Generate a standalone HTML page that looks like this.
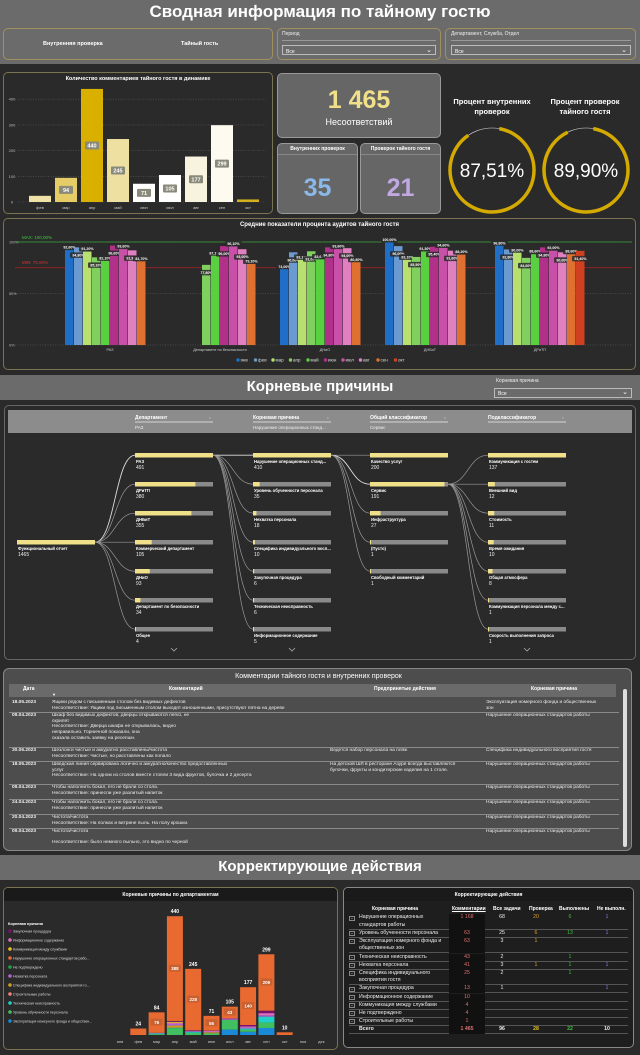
<!DOCTYPE html>
<html><head><meta charset="utf-8">
<style>
*{box-sizing:border-box}
body{margin:0;width:640px;height:1055px;background:#2a2a2a;position:relative;overflow:hidden;font-family:"Liberation Sans","Noto Sans CJK SC",sans-serif;color:#fff}
.abs{position:absolute}
.band{position:absolute;left:0;width:640px;background:#6b6b6b}
.panel{position:absolute;border:1px solid #7a7250;border-radius:5px}
.t{position:absolute;white-space:nowrap}
.slab{font-size:5px;color:#eee}
.row{position:absolute;left:0;width:610px;font-size:4.8px;line-height:5.7px;color:#eee;border-bottom:1px solid #8a8a8a}
.row div{position:absolute;top:0}
.rt{position:absolute;left:0;width:279px;font-size:5.2px;line-height:7.6px;color:#eee;border-bottom:1px solid #555}
.rt span{position:absolute;top:0;text-align:center}
</style></head><body>

<div class="band" style="top:0;height:64px"></div>
<div class="t" style="left:0;width:640px;top:2px;text-align:center;font-size:17px;font-weight:bold">Сводная информация по тайному гостю</div>
<div class="panel" style="left:3px;top:28px;width:270px;height:32px;border-color:#a09060"></div>
<div class="t" style="left:43px;top:41px;font-size:5.5px;font-weight:bold">Внутренняя проверка</div>
<div class="t" style="left:181px;top:41px;font-size:5.5px;font-weight:bold">Тайный гость</div>
<div class="panel" style="left:277px;top:28px;width:164px;height:32px;border-color:#a09060"></div>
<div class="t slab" style="left:282px;top:31px">Период</div>
<div class="abs" style="left:282px;top:40px;width:154px;height:0;border-top:1px solid #999"></div>
<div class="abs" style="left:282px;top:45px;width:154px;height:10px;border:1px solid #bbb;font-size:5px;padding:3px 0 0 3px">Все<span style="position:absolute;right:3px;top:0;font-size:7px">⌄</span></div>
<div class="panel" style="left:445px;top:28px;width:191px;height:32px;border-color:#a09060"></div>
<div class="t slab" style="left:451px;top:31px">Департамент, Служба, Отдел</div>
<div class="abs" style="left:451px;top:40px;width:180px;height:0;border-top:1px solid #999"></div>
<div class="abs" style="left:451px;top:45px;width:180px;height:10px;border:1px solid #bbb;font-size:5px;padding:3px 0 0 3px">Все<span style="position:absolute;right:3px;top:0;font-size:7px">⌄</span></div>

<div class="panel" style="left:3px;top:72px;width:270px;height:142px"></div>
<div class="t" style="left:3px;width:270px;top:76px;text-align:center;font-size:5.5px;font-weight:bold">Количество комментариев тайного гостя в динамике</div>
<div class="panel" style="left:277px;top:73px;width:164px;height:65px;background:#666;border-color:#999"></div>
<div class="t" style="left:277px;width:164px;top:86px;text-align:center;font-size:25px;font-weight:bold;color:#f0e08a">1 465</div>
<div class="t" style="left:277px;width:164px;top:117px;text-align:center;font-size:9px">Несоответствий</div>
<div class="panel" style="left:277px;top:143px;width:81px;height:71px;background:#666;border-color:#999"></div>
<div class="t" style="left:277px;width:81px;top:146px;text-align:center;font-size:5px;font-weight:bold">Внутренних проверок</div>
<div class="abs" style="left:278px;top:154px;width:79px;border-top:1px solid #888"></div>
<div class="t" style="left:277px;width:81px;top:174px;text-align:center;font-size:25px;font-weight:bold;color:#8ab8e8">35</div>
<div class="panel" style="left:360px;top:143px;width:81px;height:71px;background:#666;border-color:#999"></div>
<div class="t" style="left:360px;width:81px;top:146px;text-align:center;font-size:5px;font-weight:bold">Проверок тайного гостя</div>
<div class="abs" style="left:361px;top:154px;width:79px;border-top:1px solid #888"></div>
<div class="t" style="left:360px;width:81px;top:174px;text-align:center;font-size:25px;font-weight:bold;color:#c0a8e0">21</div>
<div class="t" style="left:447px;width:90px;top:97px;text-align:center;font-size:7.5px;font-weight:bold;line-height:10px;white-space:normal">Процент внутренних проверок</div>
<div class="t" style="left:540px;width:90px;top:97px;text-align:center;font-size:7.5px;font-weight:bold;line-height:10px;white-space:normal">Процент проверок тайного гостя</div>

<div class="panel" style="left:3px;top:218px;width:633px;height:152px"></div>
<div class="t" style="left:3px;width:633px;top:222px;text-align:center;font-size:6px;font-weight:bold">Средние показатели процента аудитов тайного гостя</div>

<div class="band" style="top:375px;height:25px"></div>
<div class="t" style="left:0;width:640px;top:378px;text-align:center;font-size:15px;font-weight:bold">Корневые причины</div>
<div class="t slab" style="left:496px;top:378px">Корневая причина</div>
<div class="abs" style="left:494px;top:388px;width:138px;height:10px;border:1px solid #bbb;font-size:5px;padding:2px 0 0 3px">Все<span style="position:absolute;right:3px;top:-1px;font-size:7px">⌄</span></div>

<div class="panel" style="left:4px;top:405px;width:632px;height:255px;border-color:#666"></div>
<div class="abs" style="left:8px;top:410px;width:624px;height:23px;background:#8c8c8c"></div>

<div class="abs" style="left:3px;top:668px;width:629px;height:183px;background:#4d4d4d;border:1px solid #888;border-radius:6px">
  <div class="t" style="left:0;width:629px;top:4px;text-align:center;font-size:7px">Комментарии тайного гостя и внутренних проверок</div>
  <div class="abs" style="left:5px;top:15px;width:607px;height:13px;background:#6a6a6a;font-size:5px;font-weight:bold">
    <span class="t" style="left:14px;top:2px">Дата</span>
    <span class="t" style="left:160px;top:2px">Комментарий</span>
    <span class="t" style="left:365px;top:2px">Предпринятые действия</span>
    <span class="t" style="left:522px;top:2px">Корневая причина</span>
    <span class="t" style="left:43px;top:8px;font-size:4px">▼</span>
  </div>
  <div id="crows"></div>
  <div class="abs" style="left:619px;top:20px;width:4px;height:158px;background:#ddd;border-radius:2px"></div>
</div>

<div class="band" style="top:855px;height:25px"></div>
<div class="t" style="left:0;width:640px;top:858px;text-align:center;font-size:15px;font-weight:bold">Корректирующие действия</div>

<div class="panel" style="left:3px;top:887px;width:335px;height:163px;background:#2a2a2a"></div>
<div class="abs" style="left:4px;top:888px;width:333px;height:13px;background:#1a1a1a;border-radius:4px 4px 0 0;font-size:5px;font-weight:bold;text-align:center;padding-top:4px">Корневые причины по департаментам</div>
<div class="panel" style="left:343px;top:887px;width:291px;height:161px;border-color:#888;background:#1e1e1e"></div>
<div class="abs" style="left:344px;top:888px;width:289px;height:13px;background:#1a1a1a;border-radius:4px 4px 0 0;font-size:5px;font-weight:bold;text-align:center;padding-top:4px">Корректирующие действия</div>
<div class="abs" style="left:347px;top:904px;width:285px;font-size:5px;font-weight:bold">
  <span class="t" style="left:25px;top:2px">Корневая причина</span>
  <span class="t" style="left:105px;top:2px;text-decoration:underline">Комментарии</span>
  <span class="t" style="left:146px;top:2px">Все задачи</span>
  <span class="t" style="left:182px;top:2px">Проверка</span>
  <span class="t" style="left:212px;top:2px">Выполнены</span>
  <span class="t" style="left:250px;top:2px">Не выполн.</span>
</div>
<div id="ctab" class="abs" style="left:349px;top:914px;width:279px"></div>

<svg id="g" class="abs" style="left:0;top:0" width="640" height="1055"></svg>

<script>
const monthsTop=['фев','мар','апр','май','июн','июл','авг','сен','окт'];
const commentCounts=[24,94,440,245,71,105,177,299,10];
const topTicks=[0,100,200,300,400];

const gaugeLabels=['87,51%','89,90%'];
const gaugeValues=[87.51,89.90];

const deptNames=['РАЗ','Департамент по безопасности','ДНиО','ДНБиТ','ДРиТП'];
const auditMonths=['янв','фев','мар','апр','май','июн','июл','авг','сен','окт'];
const auditRAZ=[92.6,94.8,91.2,85.1,82.1,96.6,93.6,91.9,81.7,null];
const auditDPB=[null,null,null,77.8,87.1,96.0,96.1,93.0,79.1,null];
const auditDNiO=[74.0,90.0,83.1,91.0,83.6,94.8,93.6,94.0,80.8,null];
const auditDNBiT=[100,96.0,83.1,85.5,91.3,95.4,94.6,91.6,88.2,null];
const auditDRiTP=[96.8,92.8,90.0,84.6,88.6,94.8,92.0,90.0,88.6,91.4];
const auditTicks=[0,50,100];
const auditMax=100, auditMin=75;

const treeRoot=['Функциональный отчет',1465];
const treeL1Names=['РАЗ','ДРиТП','ДНБиТ','Коммерческий департамент','ДНиО','Департамент по безопасности','Общее'];
const treeL1Vals=[491,380,355,105,93,34,4];
const treeL2Names=['Нарушение операционных станд...','Уровень обученности персонала','Нехватка персонала','Специфика индивидуального восп...','Закупочная процедура','Техническая неисправность','Информационное содержание'];
const treeL2Vals=[410,35,18,10,6,6,5];
const treeL3Names=['Качество услуг','Сервис','Инфраструктура','(Пусто)','Свободный комментарий'];
const treeL3Vals=[200,191,27,1,1];
const treeL4Names=['Коммуникация с гостем','Внешний вид','Стоимость','Время ожидания','Общая атмосфера','Коммуникация персонала между с...','Скорость выполнения запроса'];
const treeL4Vals=[137,12,11,10,8,1,1];

const stackMonths=['янв','фев','мар','апр','май','июн','июл','авг','сен','окт','ноя','дек'];
const stViolation=[0,24,76,388,228,55,43,140,209,10,0,0];
const stTraining=[0,0,3,25,8,6,36,8,20,0,0,0];
const stRooms=[0,0,0,0,0,0,20,12,26,0,0,0];
const stTech=[0,0,3,2,4,0,0,4,22,0,0,0];
const stSpecific=[0,0,0,8,0,4,0,0,0,0,0,0];
const stStaff=[0,0,2,6,3,3,3,4,5,0,0,0];
const stInfo=[0,0,0,4,0,2,2,4,8,0,0,0];
const stComm=[0,0,0,4,0,0,0,0,0,0,0,0];
const stPurchase=[0,0,0,3,2,1,1,5,9,0,0,0];
const legendNames=['Закупочная процедура','Информационное содержание','Коммуникация между службами','Нарушение операционных стандартов рабо...','Не подтверждено','Нехватка персонала','Специфика индивидуального восприятия го...','Строительные работы','Техническая неисправность','Уровень обученности персонала','Эксплуатация номерного фонда и обществен...'];

const ctNames=[['Нарушение операционных','стандартов работы'],['Уровень обученности персонала'],['Эксплуатация номерного фонда и','общественных зон'],['Техническая неисправность'],['Нехватка персонала'],['Специфика индивидуального','восприятия гостя'],['Закупочная процедура'],['Информационное содержание'],['Коммуникация между службами'],['Не подтверждено'],['Строительные работы']];
const ctComments=['1 168','63','63','43','41','25','13','10','4','4','1'];
const ctTasks=['68','25','3','2','3','2','1','','','',''];
const ctCheck=['20','6','1','','1','','','','','',''];
const ctDone=['6','13','','1','1','1','','','','',''];
const ctNotDone=['1','1','','','1','','1','','','',''];
const ctTotals=['1 465','96','28','22','10'];

const cDates=['18.05.2023','09.04.2023','30.06.2023','18.05.2023','09.04.2023','24.04.2023','20.04.2023','09.04.2023'];
const cComments=[
 ['Ящики рядом с письменным столом без видимых дефектов','Несоответствие: Ящики под письменным столом выходят изношенными, присутствуют пятна на дереве'],
 ['Шкаф без видимых дефектов, дверцы открываются легко, не','скрипят','Несоответствие: Дверца шкафа не открывалась, видно','неправильно. Горничной показали, она','сказала оставить заявку на ресепшн.'],
 ['Шезлонги чистые и аккуратно расставлены/чистота','Несоответствие: Чистые, но расставлены как попало'],
 ['Шведская линия сервирована логично и аккуратно/качество предоставленных','услуг','Несоответствие: На одном из столов вместе стояли 3 вида фруктов, булочка и 2 десерта'],
 ['Чтобы наполнить бокал, его не брали со стола.','Несоответствие: принесли уже разлитый напиток'],
 ['Чтобы наполнить бокал, его не брали со стола.','Несоответствие: принесли уже разлитый напиток'],
 ['Чистота/чистота','Несоответствие: На полках и витрине пыль. На полу крошки.'],
 ['Чистота/чистота','','Несоответствие: было немного пыльно, это видно по черной']];
const cActions=[[],[],['Ведется набор персонала на пляж'],['На детской ШЛ в ресторане Азуре всегда выставляются','булочки, фрукты и кондитерские изделия на 1 столе.'],[],[],[],[]];
const cRoots=[['Эксплуатация номерного фонда и общественных','зон'],['Нарушение операционных стандартов работы'],['Специфика индивидуального восприятия гостя'],['Нарушение операционных стандартов работы'],['Нарушение операционных стандартов работы'],['Нарушение операционных стандартов работы'],['Нарушение операционных стандартов работы'],['Нарушение операционных стандартов работы']];

const NS='http://www.w3.org/2000/svg';
const svg=document.getElementById('g');
function mk(tag,a,p){const e=document.createElementNS(NS,tag);for(const k in a)e.setAttribute(k,a[k]);(p||svg).appendChild(e);return e;}
function tx(x,y,s,size,fill,anchor,weight){const e=mk('text',{x:x,y:y,'font-size':size,fill:fill||'#fff','text-anchor':anchor||'start','font-weight':weight||'normal','font-family':'Liberation Sans, sans-serif'});e.textContent=s;return e;}

const topColors=['#efe2a6','#e6cc66','#d9b000','#ede0a0','#ffffff','#ffffff','#f8f3de','#fdfbf0','#d4b020'];
const yTop=v=>202-v*0.257, xTop=i=>40+i*26;
topTicks.forEach(t=>{
  const l=mk('line',{x1:18,x2:266,y1:yTop(t),y2:yTop(t),stroke:'#5a5a5a','stroke-width':0.6,'stroke-dasharray':'1,1.5'});
  
  
  const e=tx(12,yTop(t)+1.5,t,4,'#bbb','middle');
  
  
});
commentCounts.forEach((v,i)=>{
  const r=mk('rect',{x:xTop(i)-11,y:yTop(v),width:22,height:202-yTop(v),fill:topColors[i]});
  
  
  if(v>50){const my=(yTop(v)+202)/2;
    const b=mk('rect',{x:xTop(i)-7,y:my-4,width:14,height:8,fill:'#8a8a7a',rx:1});
    
    
    const t=tx(xTop(i),my+2,v,5.5,'#fff','middle','bold');
    
    }
  const m=tx(xTop(i),209,monthsTop[i],4,'#ccc','middle');
  
  
});

[492,586].forEach((cx,i)=>{
  const C=2*Math.PI*42;
  const bg=mk('circle',{cx:cx,cy:170,r:42,fill:'none',stroke:'#ddd','stroke-width':0.6});
  
  
  const a=mk('circle',{cx:cx,cy:170,r:42,fill:'none',stroke:'#d4aa00','stroke-width':3.5,'stroke-dasharray':(C*gaugeValues[i]/100)+' '+C,transform:'rotate(-80 '+cx+' 170)'});
  
  
  const t=tx(cx,177,gaugeLabels[i],19,'#fff','middle');
  
  
});

const auditColors=['#1f6fc8','#6a9ad0','#b8e070','#80d060','#58d040','#b0308a','#c850a8','#e080c0','#e07030','#d04020'];
const groupCenters=[110,220,325,430,540];
const auditGroups=[auditRAZ,auditDPB,auditDNiO,auditDNBiT,auditDRiTP];
const yA=v=>345-v*1.03;
auditTicks.forEach(t=>{
  const l=mk('line',{x1:15,x2:632,y1:yA(t),y2:yA(t),stroke:'#666','stroke-width':0.6,'stroke-dasharray':'1,1.5'});
  
  
  const e=tx(9,yA(t)+1.5,t+'%',3.8,'#bbb','start');
  
  
});
const maxL=mk('line',{x1:15,x2:632,y1:yA(auditMax),y2:yA(auditMax),stroke:'#3aa63a','stroke-width':0.8});


const maxT=tx(22,yA(auditMax)-3,'MAX: 100,00%',4.5,'#3ec83e');


const minL=mk('line',{x1:15,x2:632,y1:yA(auditMin),y2:yA(auditMin),stroke:'#b02020','stroke-width':0.8});


const minT=tx(22,yA(auditMin)-4,'MIN: 75,00%',4.5,'#e03030');


auditGroups.forEach((arr,g)=>{
  arr.forEach((v,i)=>{ if(v==null)return;
    const x=groupCenters[g]-45+i*9;
    const r=mk('rect',{x:x,y:yA(v),width:8.5,height:345-yA(v),fill:auditColors[i]});
    
    
    const ly=yA(v)+(i%2?9:-1);
    const b=mk('rect',{x:x-4,y:ly-4,width:17,height:5.5,fill:'#2a2a2a',opacity:0.85,rx:1});
    
    
    const t=tx(x+4.5,ly,v.toFixed(2).replace('.',',')+'%',3.6,'#fff','middle','bold');
    
    
  });
  const d=tx(groupCenters[g],351,deptNames[g],3.8,'#ccc','middle');
  
  
});
auditMonths.forEach((m,i)=>{
  const x=238+i*17.5;
  const c=mk('circle',{cx:x,cy:360,r:1.7,fill:auditColors[i]});
  
  
  const t=tx(x+2.5,361.5,m,4.5,'#ddd');
  
  
});

const colX=[17,135,253,370,488], BW=78;
const rowY=i=>453+i*29;
const headers=[['Департамент','РАЗ'],['Корневая причина','Нарушение операционных станд...'],['Общий классификатор','Сервис'],['Подклассификатор','']];
headers.forEach((h,i)=>{
  const x=colX[i+1];
  const t=tx(x,419,h[0],5,'#fff','start','bold');
  
  
  const x2=tx(x+76,419,'×',4,'#ccc','end');
  
  
  const u=mk('line',{x1:x,x2:x+BW,y1:422,y2:422,stroke:'#eee','stroke-width':0.8});
  
  
  if(h[1]){const s=tx(x,429,h[1],4.5,'#eee');
    
    }
});
function node(x,y,name,val,frac,lvl){
  const bg=mk('rect',{x:x,y:y,width:BW,height:4.5,fill:'#8a8a8a'});
  
  
  const f=mk('rect',{x:x,y:y,width:Math.max(1,BW*frac),height:4.5,fill:'#f0e08a'});
  
  
  const n=tx(x+1,y+10,name,4.2,'#fff','start','bold');
  
  
  const v=tx(x+1,y+16,val,5,'#eee');
  
  
}
function link(x1,y1,x2,y2,hl){
  const mx=(x1+x2)/2;
  const p=mk('path',{d:`M${x1},${y1+2.2} C${mx},${y1+2.2} ${mx},${y2+2.2} ${x2},${y2+2.2}`,fill:'none',stroke:hl?'#ddd':'#999','stroke-width':hl?0.9:0.7});
  
  
}
const rootY=540;
treeL1Vals.forEach((v,i)=>link(colX[0]+BW,rootY,colX[1],rowY(i),i==0));
treeL2Vals.forEach((v,i)=>link(colX[1]+BW,rowY(0),colX[2],rowY(i),i==0));
treeL3Vals.forEach((v,i)=>link(colX[2]+BW,rowY(0),colX[3],rowY(i),i==1));
treeL4Vals.forEach((v,i)=>link(colX[3]+BW,rowY(1),colX[4],rowY(i),false));
node(colX[0],rootY,treeRoot[0],treeRoot[1],1,0);
[[treeL1Names,treeL1Vals],[treeL2Names,treeL2Vals],[treeL3Names,treeL3Vals],[treeL4Names,treeL4Vals]].forEach((lv,l)=>{
  const mx=Math.max(...lv[1]);
  lv[1].forEach((v,i)=>node(colX[l+1],rowY(i),lv[0][i],v,v/mx,l+1));
});
[1,2,4].forEach(c=>{
  const ch=mk('path',{d:`M${colX[c]+36},648 l3,3 l3,-3`,fill:'none',stroke:'#aaa','stroke-width':0.8});
  
  
});

const stSeries=[stRooms,stTraining,stTech,stSpecific,stStaff,stInfo,stComm,stPurchase,stViolation];
const stColors=['#1a8ad8','#40c060','#20d0c8','#c8a020','#b060d0','#e070c0','#e8c020','#7a1070','#e86a30'];
const xS=i=>120+i*18.3, yS=v=>1035-v*0.27;
stackMonths.forEach((m,i)=>{
  let acc=0;
  stSeries.forEach((s,k)=>{ const v=s[i]; if(!v)return;
    const r=mk('rect',{x:xS(i)-8,y:yS(acc+v),width:16,height:v*0.27,fill:stColors[k]});
    
    
    acc+=v; });
  if(acc>0){
    const t=tx(xS(i),yS(acc)-3,acc,5,'#fff','middle','bold');
    
    
    const vv=stViolation[i];
    if(vv>30){const base=acc-vv;const my=yS(base+vv/2);
      const b=mk('rect',{x:xS(i)-6,y:my-4,width:12,height:7,fill:'#c86030'});
      
      
      const l=tx(xS(i),my+1.5,vv,4.5,'#fff','middle','bold');
      
      }
  }
  const xl=tx(xS(i),1043,m,4,'#ccc','middle');
  
  
});
const lt=tx(8,925,'Корневая причина',3.8,'#fff','start','bold');


const legColors=['#7a1070','#e070c0','#e8c020','#e86a30','#20a040','#b060d0','#c8a020','#f08080','#20d0c8','#40c060','#1a8ad8'];
legendNames.forEach((n,i)=>{
  const y=931+i*9;
  const c=mk('circle',{cx:10,cy:y,r:1.8,fill:legColors[i]});
  
  
  const t=tx(13,y+1.3,n,3.6,'#ddd');
  
  
});

const ct=document.getElementById('ctab');
let ty=0;
ctNames.forEach((nm,i)=>{
  const h=nm.length*7.6+0.5;
  const r=document.createElement('div');
  r.className='rt';r.style.top=ty+'px';r.style.height=h+'px';
  
  
  r.innerHTML=`<span style="left:0;width:6px;height:5px;top:1.5px;border:0.7px solid #888;font-size:4px;line-height:4px">−</span>
  <span style="left:10px;text-align:left">${nm.join('<br>')}</span>
  <span style="left:100px;width:36px;color:#e07070;background:#111;height:${h}px">${ctComments[i]}</span>
  <span style="left:138px;width:30px">${ctTasks[i]}</span>
  <span style="left:172px;width:30px;color:#e0a020">${ctCheck[i]}</span>
  <span style="left:205px;width:32px;color:#40c040">${ctDone[i]}</span>
  <span style="left:240px;width:36px;color:#8080e0">${ctNotDone[i]}</span>`;
  ct.appendChild(r); ty+=h;
});
const tot=document.createElement('div');
tot.className='rt';tot.style.top=ty+'px';tot.style.height='8px';tot.style.fontWeight='bold';


tot.innerHTML=`<span style="left:10px">Всего</span><span style="left:100px;width:36px;color:#e07070;background:#111;height:8px">${ctTotals[0]}</span><span style="left:138px;width:30px">${ctTotals[1]}</span><span style="left:172px;width:30px;color:#e0c020">${ctTotals[2]}</span><span style="left:205px;width:32px;color:#40c040">${ctTotals[3]}</span><span style="left:240px;width:36px">${ctTotals[4]}</span>`;
ct.appendChild(tot);

const cr=document.getElementById('crows');
const rowTops=[31,44,79,93,116,131,146,160];
cDates.forEach((d,i)=>{
  const n=Math.max(cComments[i].length,cActions[i].length,cRoots[i].length);
  const r=document.createElement('div');
  r.className='row';r.style.left='5px';r.style.top=rowTops[i]+'px';
  r.style.height=(i<7?(rowTops[i+1]-rowTops[i]):n*5.7+1)+'px';
  if(i==7)r.style.borderBottom='none';
  
  
  r.innerHTML=`<div style="left:3px;font-weight:bold">${d}</div><div style="left:43px">${cComments[i].join('<br>')}</div><div style="left:321px">${cActions[i].join('<br>')}</div><div style="left:477px">${cRoots[i].join('<br>')}</div>`;
  cr.appendChild(r);
});
</script>
</body></html>
